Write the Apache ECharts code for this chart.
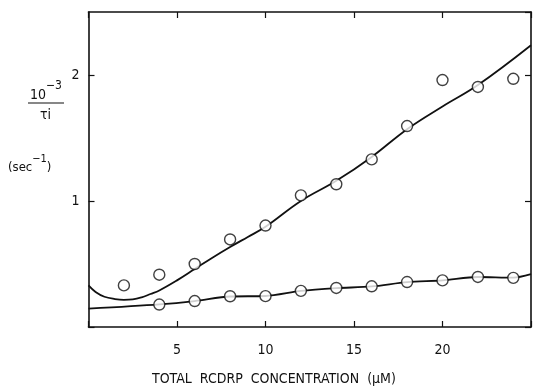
<!DOCTYPE html>
<html>
<head>
<meta charset="utf-8">
<script src="https://cdn.jsdelivr.net/npm/echarts@6/dist/echarts.min.js"></script>
<style>
  html, body { margin: 0; padding: 0; background: #fff; }
  #chart { width: 534px; height: 390px; }
</style>
</head>
<body>
<div id="chart"></div>
<script>
// Measured relaxation rates, 10^-3/τi (sec^-1), vs total RCDRP concentration (µM)
var fastConc  = [2, 4, 6, 8, 10, 12, 14, 16, 18, 20, 22, 24];
var fastRate  = [0.33, 0.415, 0.50, 0.695, 0.805, 1.045, 1.133, 1.33, 1.595, 1.96, 1.905, 1.97];
var slowConc  = [4, 6, 8, 10, 12, 14, 16, 18, 20, 22, 24];
var slowRate  = [0.178, 0.206, 0.244, 0.245, 0.287, 0.31, 0.323, 0.357, 0.37, 0.397, 0.39];

// Fitted curves
var fastFitConc = [0, 0.4, 0.9, 1.5, 2, 2.5, 3, 3.5, 4, 5, 6, 7, 8, 9, 10, 12, 14, 16, 18, 20, 22, 25];
var fastFitRate = [0.33, 0.278, 0.24, 0.222, 0.216, 0.219, 0.235, 0.262, 0.29, 0.37, 0.46, 0.55, 0.635, 0.715, 0.795, 1.0, 1.16, 1.35, 1.57, 1.75, 1.92, 2.236];
var slowFitConc = [0, 4, 6, 8, 10, 12, 14, 16, 18, 20, 22, 24, 25];
var slowFitRate = [0.146, 0.18, 0.206, 0.242, 0.246, 0.286, 0.308, 0.322, 0.356, 0.37, 0.397, 0.392, 0.42];

// Axis ticks
var xTicks = [5, 10, 15, 20];
var yTicks = [1, 2];

function pairs(xs, ys) {
  return xs.map(function (x, i) { return [x, ys[i]]; });
}

var FONT = '"Liberation Sans Narrow", "DejaVu Sans Condensed", "DejaVu Sans", sans-serif';
var INK = '#111';

var chart = echarts.init(document.getElementById('chart'), null, { renderer: 'canvas' });

function xAxisDef(pos, showLabels) {
  return {
    type: 'value', position: pos, min: 0, max: 25, interval: 5,
    axisLine: { show: true, onZero: false, lineStyle: { color: INK, width: 1.6 } },
    axisTick: { show: true, inside: true, length: 6, lineStyle: { color: INK, width: 1.2 } },
    axisLabel: {
      show: showLabels, margin: 16, color: INK, fontSize: 14, fontFamily: FONT,
      formatter: function (v) { return xTicks.indexOf(v) >= 0 ? String(v) : ''; }
    },
    splitLine: { show: false }
  };
}
function yAxisDef(pos, showLabels) {
  return {
    type: 'value', position: pos, min: 0, max: 2.5, interval: 1,
    axisLine: { show: true, onZero: false, lineStyle: { color: INK, width: 1.6 } },
    axisTick: { show: true, inside: true, length: 6, lineStyle: { color: INK, width: 1.2 } },
    axisLabel: {
      show: showLabels, margin: 9, color: INK, fontSize: 14, fontFamily: FONT,
      showMaxLabel: false,
      formatter: function (v) { return yTicks.indexOf(v) >= 0 ? String(v) : ''; }
    },
    splitLine: { show: false }
  };
}

var option = {
  animation: false,
  backgroundColor: '#fff',
  grid: { left: 88.5, right: 1.5, top: 12, bottom: 63 },
  xAxis: [xAxisDef('bottom', true), xAxisDef('top', false)],
  yAxis: [yAxisDef('left', true), yAxisDef('right', false)],
  series: [
    {
      type: 'line', data: pairs(fastFitConc, fastFitRate), smooth: 0.4,
      showSymbol: false, lineStyle: { color: INK, width: 1.8 }, z: 2
    },
    {
      type: 'line', data: pairs(slowFitConc, slowFitRate), smooth: 0.3,
      showSymbol: false, lineStyle: { color: INK, width: 1.8 }, z: 2
    },
    {
      type: 'scatter', data: pairs(fastConc, fastRate), symbol: 'circle', symbolSize: 11,
      itemStyle: { color: '#fff', borderColor: INK, borderWidth: 1.4 }, z: 5
    },
    {
      type: 'scatter', data: pairs(slowConc, slowRate), symbol: 'circle', symbolSize: 11,
      itemStyle: { color: '#fff', borderColor: INK, borderWidth: 1.4 }, z: 5
    }
  ],
  graphic: [
    {
      type: 'text', left: 152, top: 372,
      style: {
        text: 'TOTAL  RCDRP  CONCENTRATION  (\u03bcM)',
        font: '14px ' + FONT, fill: INK
      }
    },
    {
      type: 'text', left: 30, top: 80,
      style: {
        text: '{b|10}{s|\u22123}',
        font: '14px ' + FONT, fill: INK,
        rich: {
          b: { fontSize: 14, fontFamily: FONT, color: INK, verticalAlign: 'bottom', lineHeight: 22 },
          s: { fontSize: 12, fontFamily: FONT, color: INK, verticalAlign: 'top', lineHeight: 22 }
        }
      }
    },
    {
      type: 'line', shape: { x1: 28, y1: 103, x2: 64, y2: 103 },
      style: { stroke: INK, lineWidth: 1.2 }
    },
    {
      type: 'text', left: 40, top: 108,
      style: { text: '\u03c4i', font: '14px ' + FONT, fill: INK }
    },
    {
      type: 'text', left: 8, top: 154,
      style: {
        text: '{b|(sec}{s|\u22121}{b|)}',
        font: '13px ' + FONT, fill: INK,
        rich: {
          b: { fontSize: 13, fontFamily: FONT, color: INK, verticalAlign: 'bottom', lineHeight: 20 },
          s: { fontSize: 11, fontFamily: FONT, color: INK, verticalAlign: 'top', lineHeight: 20 }
        }
      }
    }
  ]
};

chart.setOption(option);
</script>
</body>
</html>
